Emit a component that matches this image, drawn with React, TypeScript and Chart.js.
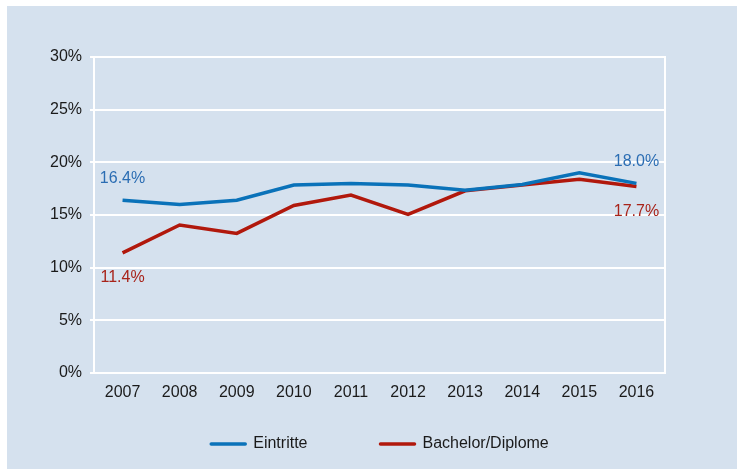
import React, { useEffect, useRef } from "react";
import { Chart, registerables } from "chart.js";

Chart.register(...registerables);

const years = ["2007", "2008", "2009", "2010", "2011", "2012", "2013", "2014", "2015", "2016"];
const eintritte = [16.4, 16.0, 16.4, 17.85, 18.0, 17.85, 17.35, 17.9, 19.0, 18.0];
const bachelor = [11.4, 14.05, 13.25, 15.9, 16.9, 15.05, 17.3, 17.85, 18.4, 17.7];
const seriesNames = ["Eintritte", "Bachelor/Diplome"];
const seriesColors = ["#0a72b9", "#b1180c"];
const labelColors = ["#2b6db3", "#a8231a"];
const yMin = 0;
const yMax = 30;
const yStep = 5;

const FONT = "'Liberation Sans', Arial, Helvetica, sans-serif";
const BG = "#d5e1ee";

const bgPlugin = {
  id: "bgPlugin",
  beforeDraw(chart: any) {
    const ctx = chart.ctx;
    ctx.save();
    ctx.fillStyle = "#ffffff";
    ctx.fillRect(0, 0, chart.width, chart.height);
    ctx.fillStyle = BG;
    ctx.fillRect(7, 6, chart.width - 7, chart.height - 7);
    ctx.restore();
  },
  afterDraw(chart: any) {
    const { ctx, chartArea } = chart;
    ctx.save();
    ctx.strokeStyle = "#ffffff";
    ctx.lineWidth = 2;
    ctx.beginPath();
    ctx.moveTo(chartArea.right, chartArea.top - 1);
    ctx.lineTo(chartArea.right, chartArea.bottom);
    ctx.stroke();
    ctx.restore();
  },
};

const endLabelPlugin = {
  id: "endLabelPlugin",
  afterDatasetsDraw(chart: any) {
    const ctx = chart.ctx;
    ctx.save();
    ctx.font = `16px ${FONT}`;
    ctx.textAlign = "center";
    ctx.textBaseline = "middle";
    chart.data.datasets.forEach((ds: any, i: number) => {
      const meta = chart.getDatasetMeta(i);
      const last = ds.data.length - 1;
      [0, last].forEach((idx) => {
        const pt = meta.data[idx];
        const v = ds.data[idx] as number;
        ctx.fillStyle = labelColors[i];
        const dy = i === 0 ? -22 : 25;
        ctx.fillText(v.toFixed(1) + "%", pt.x, pt.y + dy);
      });
    });
    ctx.restore();
  },
};

const legendPlugin = {
  id: "legendPlugin",
  afterDraw(chart: any) {
    const { ctx, chartArea } = chart;
    ctx.save();
    ctx.font = `16px ${FONT}`;
    ctx.textBaseline = "middle";
    ctx.textAlign = "left";
    const boxW = 36;
    const gap = 7;
    const spacing = 72;
    const widths = seriesNames.map((n) => boxW + gap + ctx.measureText(n).width);
    const total = widths.reduce((a, b) => a + b, 0) + spacing * (widths.length - 1);
    let x = (chartArea.left + chartArea.right) / 2 - total / 2;
    const y = 444;
    seriesNames.forEach((n, i) => {
      ctx.strokeStyle = seriesColors[i];
      ctx.lineWidth = 3.5;
      ctx.lineCap = "round";
      ctx.beginPath();
      ctx.moveTo(x + 1, y);
      ctx.lineTo(x + boxW - 1, y);
      ctx.stroke();
      ctx.fillStyle = "#1a1a1a";
      ctx.fillText(n, x + boxW + gap, y);
      x += widths[i] + spacing;
    });
    ctx.restore();
  },
};

export default function App() {
  const ref = useRef<HTMLCanvasElement | null>(null);

  useEffect(() => {
    if (!ref.current) return;
    Chart.defaults.font.family = FONT;
    Chart.defaults.font.size = 16;
    Chart.defaults.color = "#1a1a1a";
    const chart = new Chart(ref.current, {
      type: "line",
      data: {
        labels: years,
        datasets: [
          {
            label: seriesNames[0],
            data: eintritte,
            borderColor: seriesColors[0],
            backgroundColor: seriesColors[0],
            borderWidth: 3.5,
            pointRadius: 0,
            tension: 0,
          },
          {
            label: seriesNames[1],
            data: bachelor,
            borderColor: seriesColors[1],
            backgroundColor: seriesColors[1],
            borderWidth: 3.5,
            pointRadius: 0,
            tension: 0,
          },
        ],
      },
      options: {
        responsive: false,
        animation: false,
        devicePixelRatio: 1,
        layout: { padding: { left: 40, top: 57, right: 72, bottom: 67 } },
        plugins: {
          legend: { display: false },
          tooltip: { enabled: false },
        },
        scales: {
          x: {
            offset: true,
            grid: { display: false, drawTicks: false },
            border: { display: true, color: "#ffffff", width: 2 },
            ticks: { padding: 10, color: "#1a1a1a", font: { size: 16 } },
            afterFit: (s: any) => {
              s.height = 30;
            },
          },
          y: {
            min: yMin,
            max: yMax,
            grid: {
              color: "#ffffff",
              lineWidth: 2,
              drawTicks: true,
              tickLength: 4,
              tickColor: "#ffffff",
              tickWidth: 2,
            },
            border: { display: true, color: "#ffffff", width: 2 },
            ticks: {
              stepSize: yStep,
              padding: 8,
              color: "#1a1a1a",
              font: { size: 16 },
              callback: (v: any) => v + "%",
            },
            afterFit: (s: any) => {
              s.width = 54;
            },
          },
        },
      } as any,
      plugins: [bgPlugin, endLabelPlugin, legendPlugin],
    });
    return () => chart.destroy();
  }, []);

  return (
    <div style={{ position: "absolute", left: 0, top: 0, width: 737, height: 470 }}>
      <canvas ref={ref} width={737} height={470} style={{ display: "block", width: 737, height: 470 }} />
    </div>
  );
}
